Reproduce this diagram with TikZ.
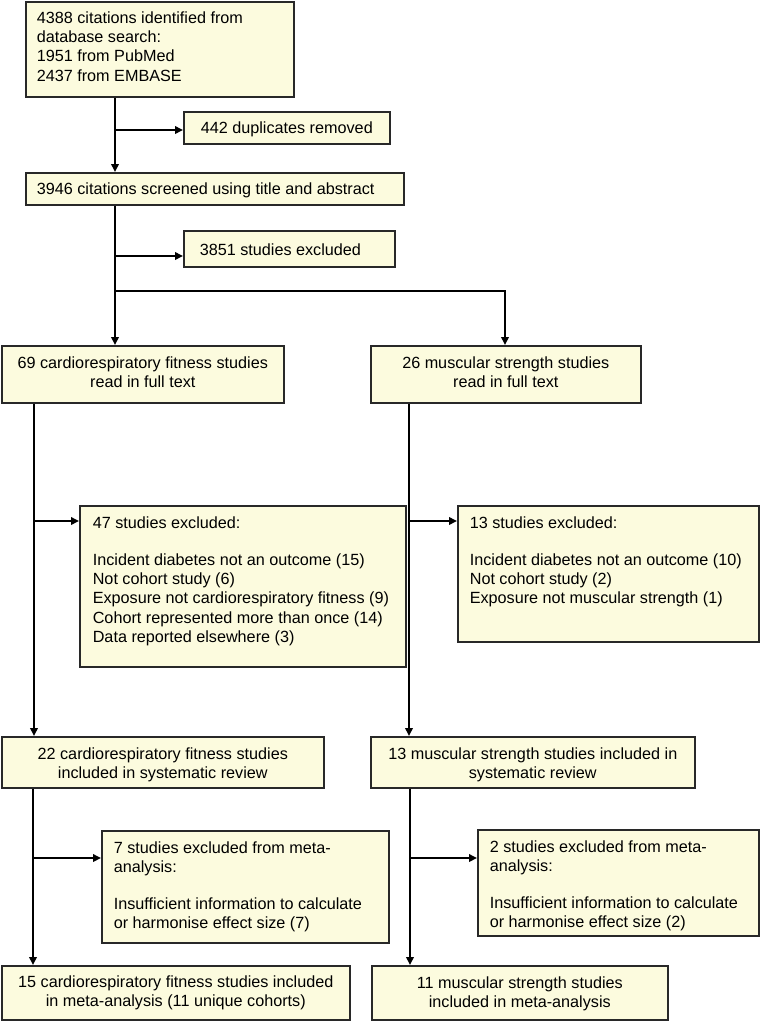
\documentclass[tikz,border=0pt]{standalone}
\usepackage{fontspec}
\setmainfont{Liberation Sans}
\usetikzlibrary{arrows.meta}
\definecolor{boxfill}{RGB}{252,251,222}
\definecolor{boxline}{RGB}{40,40,40}
\newcommand{\bt}[5]{\parbox[c][#2pt][t]{#1pt}{#3\rule{0pt}{#4pt}#5}}
\tikzset{
  box/.style={draw=boxline, fill=boxfill, line width=1.6pt, inner sep=0pt, anchor=north west},
  arr/.style={line width=1.9pt, black, -{Triangle[length=8pt,width=7.5pt]}},
  ln/.style={line width=1.9pt, black}
}
\begin{document}
\begin{tikzpicture}[x=1pt,y=-1pt,font=\fontsize{16.2}{19.3}\selectfont]
\useasboundingbox (0,0) rectangle (767,1021);

\node[box, inner xsep=11pt] (b1) at (25,1) {\bt{246}{95}{\raggedright}{21.5}{4388 citations identified from\\database search:\\1951 from PubMed\\2437 from EMBASE}};
\node[box] (b442) at (183,111) {\bt{206}{32}{\centering}{21.5}{442 duplicates removed}};
\node[box, inner xsep=11pt] (b3946) at (25,172) {\bt{356}{32}{\raggedright}{21.5}{3946 citations screened using title and abstract}};
\node[box, inner xsep=16pt] (b3851) at (183,230) {\bt{179}{36}{\raggedright}{24.5}{3851 studies excluded}};
\node[box] (b69) at (1,345) {\bt{282}{57}{\centering}{22.5}{69 cardiorespiratory fitness studies\\read in full text}};
\node[box] (b26) at (370,345) {\bt{270}{57}{\centering}{22.5}{26 muscular strength studies\\read in full text}};
\node[box, inner xsep=13pt] (b47) at (79,505) {\bt{300}{161}{\raggedright}{22.5}{47 studies excluded:\\[17.7pt]Incident diabetes not an outcome (15)\\Not cohort study (6)\\Exposure not cardiorespiratory fitness (9)\\Cohort represented more than once (14)\\Data reported elsewhere (3)}};
\node[box, inner xsep=12pt] (b13x) at (457,505) {\bt{277}{136}{\raggedright}{22.5}{13 studies excluded:\\[17.7pt]Incident diabetes not an outcome (10)\\Not cohort study (2)\\Exposure not muscular strength (1)}};
\node[box] (b22) at (1,736) {\bt{322}{51}{\centering}{22.5}{22 cardiorespiratory fitness studies\\included in systematic review}};
\node[box] (b13i) at (370,736) {\bt{324}{51}{\centering}{22.5}{13 muscular strength studies included in\\systematic review}};
\node[box, inner xsep=12pt] (b7) at (101,830) {\bt{263}{112}{\raggedright}{22.5}{7 studies excluded from meta-\\analysis:\\[17.7pt]Insufficient information to calculate\\or harmonise effect size (7)}};
\node[box, inner xsep=12pt] (b2) at (477,829) {\bt{257}{106}{\raggedright}{22.5}{2 studies excluded from meta-\\analysis:\\[17.7pt]Insufficient information to calculate\\or harmonise effect size (2)}};
\node[box] (b15) at (1,965) {\bt{348}{54}{\centering}{21.5}{15 cardiorespiratory fitness studies included\\in meta-analysis (11 unique cohorts)}};
\node[box] (b11) at (371,965) {\bt{296}{54}{\centering}{22.5}{11 muscular strength studies\\included in meta-analysis}};

\coordinate (c1) at (115,130);
\coordinate (c2) at (115,256);
\coordinate (c3) at (115,291);
\coordinate (c4) at (505,291);
\coordinate (c5) at (34,521);
\coordinate (c6) at (409,521);
\coordinate (c7) at (33,858);
\coordinate (c8) at (410,858);

\draw[arr] (b1.south -| c1) -- (b3946.north -| c1);
\draw[arr] (c1) -- (c1 -| b442.west);
\draw[arr] (b3946.south -| c2) -- (b69.north -| c2);
\draw[arr] (c2) -- (c2 -| b3851.west);
\draw[arr] (c3) -- (c4) -- (b26.north -| c4);
\draw[arr] (b69.south -| c5) -- (b22.north -| c5);
\draw[arr] (c5) -- (c5 -| b47.west);
\draw[arr] (b26.south -| c6) -- (b13i.north -| c6);
\draw[arr] (c6) -- (c6 -| b13x.west);
\draw[arr] (b22.south -| c7) -- (b15.north -| c7);
\draw[arr] (c7) -- (c7 -| b7.west);
\draw[arr] (b13i.south -| c8) -- (b11.north -| c8);
\draw[arr] (c8) -- (c8 -| b2.west);
\end{tikzpicture}
\end{document}
